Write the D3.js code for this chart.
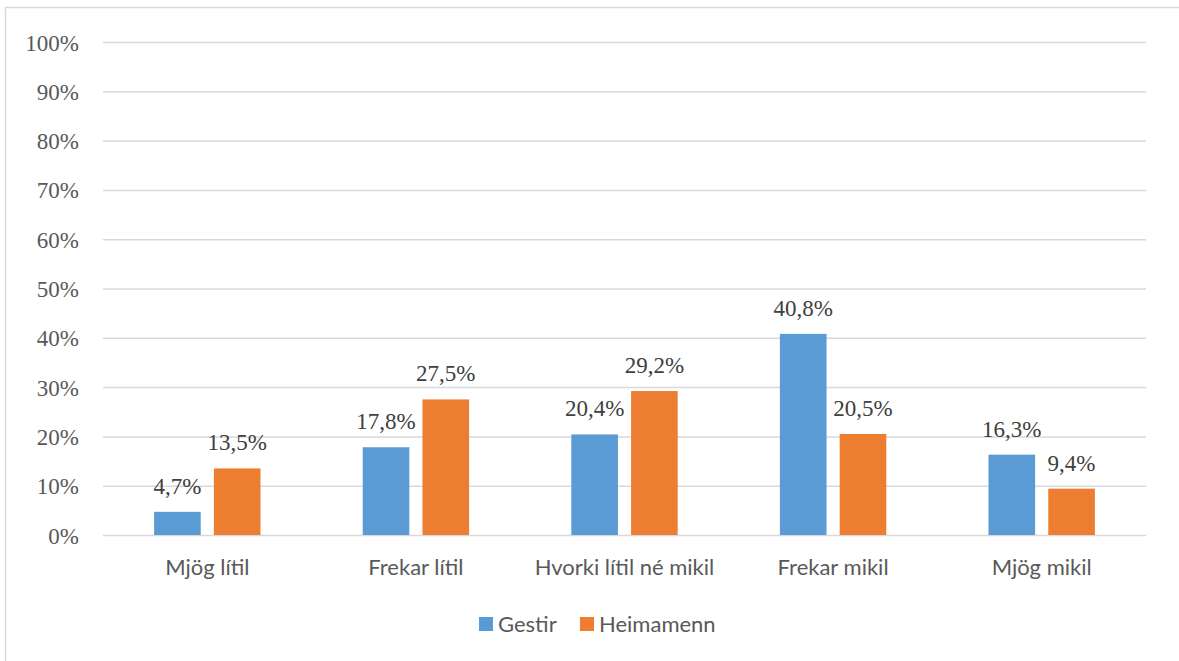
<!DOCTYPE html>
<html>
<head>
<meta charset="utf-8">
<script src="https://cdn.jsdelivr.net/npm/d3@7"></script>
<style>
  html, body { margin: 0; padding: 0; background: #fff; }
</style>
</head>
<body>
<div id="chart"></div>
<script>
const categories = ['Mjög lítil', 'Frekar lítil', 'Hvorki lítil né mikil', 'Frekar mikil', 'Mjög mikil']
const seriesNames = ['Gestir', 'Heimamenn']
const gestir = [4.7, 17.8, 20.4, 40.8, 16.3]
const heimamenn = [13.5, 27.5, 29.2, 20.5, 9.4]
const yTicks = [0, 10, 20, 30, 40, 50, 60, 70, 80, 90, 100]

const [WIDTH, HEIGHT] = [1179, 661]
const MARGIN = { left: 103, right: 33, top: 42, bottom: 126 }
const COLORS = { Gestir: '#5B9BD5', Heimamenn: '#ED7D31' }
const SERIF = 'Liberation Serif'
const SANS = 'Lato'

const fmt = v => v.toFixed(1).replace('.', ',') + '%'

const svg = d3.select('#chart').append('svg')
    .attr('width', WIDTH)
    .attr('height', HEIGHT)
    .attr('viewBox', [0, 0, WIDTH, HEIGHT])

// chart frame (right and bottom edges fall outside the picture)
svg.append('rect')
    .attr('x', 5.5).attr('y', 7.5)
    .attr('width', WIDTH + 20).attr('height', HEIGHT + 20)
    .attr('fill', '#fff')
    .attr('stroke', '#D9D9D9')
    .attr('stroke-width', 1.5)

const x0 = d3.scaleBand(categories, [MARGIN.left, WIDTH - MARGIN.right])
    .paddingInner(0.49).paddingOuter(0.245)
const x1 = d3.scaleBand(seriesNames, [0, x0.bandwidth()]).paddingInner(0.22)
const y = d3.scaleLinear([0, 100], [HEIGHT - MARGIN.bottom, MARGIN.top])

// gridlines + tick labels
const yAxis = d3.axisLeft(y)
    .tickValues(yTicks)
    .tickFormat(d => d + '%')
    .tickSize(-(WIDTH - MARGIN.left - MARGIN.right))
    .tickPadding(24)

svg.append('g')
    .attr('transform', `translate(${MARGIN.left},0)`)
    .call(yAxis)
    .attr('font-family', SERIF)
    .attr('font-size', 23)
    .call(g => g.select('.domain').remove())
    .call(g => g.selectAll('.tick line')
        .attr('stroke', '#D9D9D9')
        .attr('stroke-width', 1.5))
    .call(g => g.selectAll('.tick text')
        .attr('fill', '#595959')
        .attr('dy', '0.35em'))

const data = categories.map((c, i) => ({
    cat: c,
    values: [
        { key: 'Gestir', value: gestir[i] },
        { key: 'Heimamenn', value: heimamenn[i] },
    ],
}))

const groups = svg.append('g').selectAll('g')
    .data(data)
    .join('g')
    .attr('transform', d => `translate(${x0(d.cat)},0)`)

groups.selectAll('rect')
    .data(d => d.values)
    .join('rect')
    .attr('x', d => x1(d.key))
    .attr('y', d => y(d.value))
    .attr('width', x1.bandwidth())
    .attr('height', d => y(0) - y(d.value))
    .attr('fill', d => COLORS[d.key])

groups.selectAll('text')
    .data(d => d.values)
    .join('text')
    .attr('x', d => x1(d.key) + x1.bandwidth() / 2)
    .attr('y', d => y(d.value) - 18)
    .attr('text-anchor', 'middle')
    .attr('fill', '#404040')
    .attr('font-family', SERIF)
    .attr('font-size', 23)
    .text(d => fmt(d.value))

// category labels
svg.append('g').selectAll('text')
    .data(categories)
    .join('text')
    .attr('x', d => x0(d) + x0.bandwidth() / 2)
    .attr('y', y(0) + 40)
    .attr('text-anchor', 'middle')
    .attr('fill', '#595959')
    .attr('font-family', SANS)
    .attr('font-size', 22)
    .text(d => d)

// legend
const legendX = [479, 580]
const legend = svg.append('g').selectAll('g')
    .data(seriesNames)
    .join('g')
    .attr('transform', (d, i) => `translate(${legendX[i]},617)`)

legend.append('rect')
    .attr('width', 14).attr('height', 14)
    .attr('fill', d => COLORS[d])

legend.append('text')
    .attr('x', 19).attr('y', 15)
    .attr('fill', '#595959')
    .attr('font-family', SANS)
    .attr('font-size', 22)
    .text(d => d)
</script>
</body>
</html>
